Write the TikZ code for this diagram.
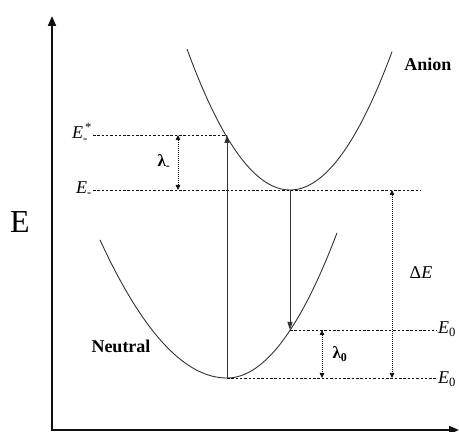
\documentclass[tikz,border=0pt]{standalone}
\usepackage{amsmath}
\usepackage{fontspec}
\setmainfont{Liberation Serif}
\usepackage{xcolor}
\usepackage{tikz}
\usetikzlibrary{arrows.meta}
\definecolor{Ink}{HTML}{111111}
\definecolor{Curve}{HTML}{333333}

\begin{document}
\begin{tikzpicture}[x=1pt,y=1pt,
    axis/.style={draw=Ink,line width=2pt},
    curve/.style={draw=Curve,line width=0.9pt},
    level/.style={draw=Ink,line width=0.8pt,dash pattern=on 2.5pt off 1.8pt},
    gap/.style={draw=Ink,line width=0.8pt,dash pattern=on 1pt off 1pt,
      {Triangle[length=5pt,width=4.5pt]}-{Triangle[length=5pt,width=4.5pt]}},
    trans/.style={draw=Curve,line width=0.9pt,-{Triangle[length=8pt,width=5pt]}},
    lbl/.style={font=\fontsize{18}{20}\selectfont,inner sep=1pt},
    state/.style={font=\fontsize{18}{20}\selectfont\bfseries,inner sep=1pt}]
  \useasboundingbox (0,0) rectangle (459,432);
  % axes
  \coordinate (O) at (52,2);
  \coordinate (Ytop) at (52,416);
  \coordinate (Xend) at (459,2);
  \draw[axis,{Triangle[length=10pt,width=8pt]}-{Triangle[length=10pt,width=8pt]}] (Ytop) -- (O) -- (Xend);
  \node[font=\fontsize{32}{34}\selectfont] (Elab) at (20,210) {E};
  % potential curves
  \coordinate (Amin) at (290,242);
  \coordinate (Nmin) at (227,54);
  \coordinate (Astar) at (227,297);
  \coordinate (Nv) at (290,102);
  \draw[curve] plot[domain=-103:102,samples=60] ({290+\x},{242+0.01329*\x*\x});
  \draw[curve] plot[domain=-127:0,samples=40] ({227+\x},{54+0.008556*\x*\x})
    -- plot[domain=0:110,samples=40] ({227+\x},{54+0.0120*\x*\x});
  \node[state] (anion) at (428,368) {Anion};
  \node[state] (neutral) at (121,86) {Neutral};
  % levels
  \node[lbl,anchor=east] (Estar) at (93,299) {\textit{E}$_{\text{-}}^{\,\text{*}}$};
  \node[lbl,anchor=east] (Em) at (93,243) {\textit{E}$_{\text{-}}$};
  \node[lbl,anchor=west] (E0u) at (437,103) {\textit{E}$_{\text{0}}$};
  \node[lbl,anchor=west] (E0l) at (437,53) {\textit{E}$_{\text{0}}$};
  \coordinate (Eend) at (420,242);
  \draw[level] (Estar.east |- Astar) -- (Astar);
  \draw[level] (Em.east |- Amin) -- (Eend);
  \draw[level] (Nv) -- (E0u.west |- Nv);
  \draw[level] (Nmin) -- (E0l.west |- Nmin);
  % transitions
  \draw[trans] (Nmin) -- (Astar);
  \draw[trans] (Amin) -- (Nv);
  % relaxation gaps
  \coordinate (lmT) at (178,297);
  \coordinate (lmB) at (178,242);
  \coordinate (l0T) at (322,102);
  \coordinate (l0B) at (322,54);
  \coordinate (dET) at (392,242);
  \coordinate (dEB) at (392,54);
  \draw[gap] (lmT) -- (lmB);
  \draw[gap] (l0T) -- (l0B);
  \draw[gap] (dET) -- (dEB);
  \node[lbl,font=\fontsize{17}{19}\selectfont\bfseries] (lamm) at (164,270) {λ$_{\text{-}}$};
  \node[lbl,font=\fontsize{17}{19}\selectfont\bfseries] (lam0) at (340,78) {λ$_{\textbf{0}}$};
  \node[lbl] (dE) at (421,159) {Δ\textit{E}};
\end{tikzpicture}
\end{document}
